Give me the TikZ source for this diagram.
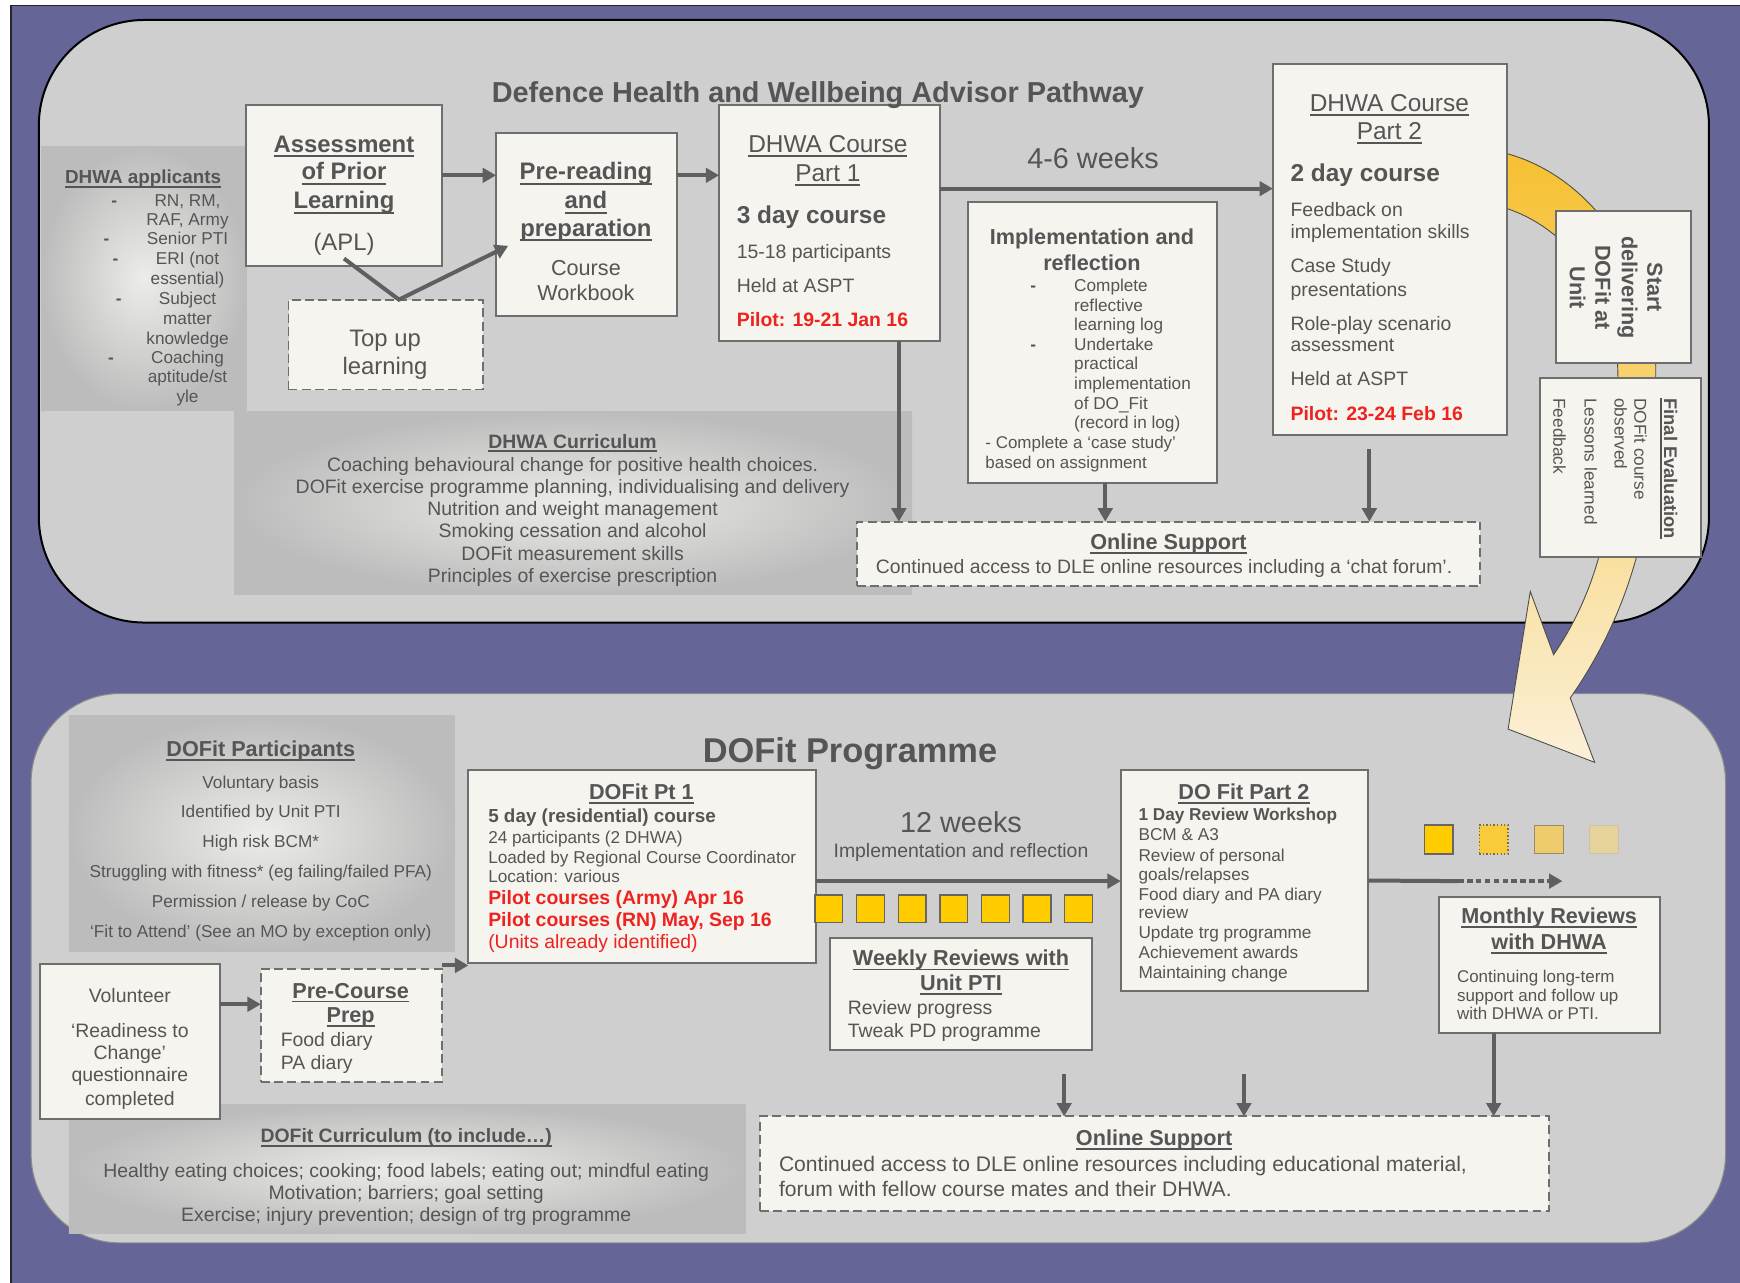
\documentclass[tikz,border=0pt]{standalone}
\usepackage{fontspec}
\setmainfont{Liberation Sans}
\usetikzlibrary{arrows.meta}
\definecolor{purp}{RGB}{101,101,152}
\definecolor{panel}{RGB}{207,207,207}
\definecolor{boxfill}{RGB}{246,244,239}
\definecolor{boxline}{RGB}{110,110,110}
\definecolor{tgray}{RGB}{85,85,85}
\definecolor{arrowc}{RGB}{95,95,95}
\definecolor{pilot}{RGB}{238,34,30}
\definecolor{shin}{RGB}{236,236,233}
\definecolor{shout}{RGB}{188,188,188}
\definecolor{yel}{RGB}{255,204,0}
\definecolor{bandtop}{RGB}{246,192,48}
\definecolor{bandbot}{RGB}{251,240,216}
\newcommand\fsz[1]{\fontsize{#1}{#1}\selectfont}
\newcommand\undl[1]{\setbox0\hbox{#1}\rlap{\rule[-0.2em]{\wd0}{0.08em}}\box0}
\begin{document}
\begin{tikzpicture}[x=1pt,y=-1pt,
  box/.style={draw=boxline, fill=boxfill, line width=1.7pt, inner sep=0pt, outer sep=0pt},
  dbox/.style={box, dash pattern=on 8pt off 4pt},
  aline/.style={draw=arrowc, line width=3.6pt},
  arr/.style={aline, -{Triangle[length=12pt,width=13pt]}},
  tx/.style={text=tgray, inner sep=0pt, outer sep=0pt},
  cn/.style={tx, font=\fsz{#1}, anchor=base, yshift={-0.33pt*#1}},
  cb/.style={tx, font=\bfseries\fsz{#1}, anchor=base, yshift={-0.33pt*#1}},
  ln/.style={tx, font=\fsz{#1}, anchor=base west, yshift={-0.33pt*#1}},
  lb/.style={tx, font=\bfseries\fsz{#1}, anchor=base west, yshift={-0.33pt*#1}},
  sq/.style={line width=1.2pt, minimum size=25pt, inner sep=0pt},
  shp/.style={inner color=shin, outer color=shout}]
\useasboundingbox (0,0) rectangle (1568,1156);
\fill[white] (0,0) rectangle (1568,1156);
\fill[purp] (10,5) rectangle (1568,1156);
\draw[black!85, line width=1.3pt] (10,1156) -- (10,5) -- (1568,5);

% panels
\draw[fill=panel, draw=black, line width=1.8pt, rounded corners=95pt] (35,18) rectangle (1540,561);
\draw[fill=panel, draw=black!45, line width=1pt, rounded corners=80pt] (28,625) rectangle (1555,1120);

% shaded areas
\shade[shp] (37,132) rectangle (222,370);
\shade[shp] (211,371) rectangle (822,536);
\shade[shp] (62,645) rectangle (410,857);
\shade[shp] (62,995) rectangle (672,1112);

% big curved band arrow
\shadedraw[top color=bandtop, bottom color=bandbot, draw=black!70, line width=0.8pt]
 (1318,133) .. controls (1420,133) and (1495,235) .. (1492,340)
 .. controls (1495,460) and (1470,550) .. (1415,629)
 -- (1437,687) -- (1359,657) -- (1379,533) -- (1400,590)
 .. controls (1448,520) and (1458,440) .. (1458,340)
 .. controls (1458,255) and (1400,183) .. (1318,181) -- cycle;

% ---------------- TOP PANEL ----------------
% applicants
\node[cb=17] (appt) at (129,160) {\undl{DHWA applicants}};
\foreach \yy/\s [count=\i] in {181/{RN, RM,},198/{RAF, Army},215/{Senior PTI},233/{ERI (not},251/{essential)},269/{Subject},287/{matter},305/{knowledge},322/{Coaching},340/{aptitude/st},358/{yle}}
  \node[cn=15.5] (appl\i) at (169,\yy) {\s};
\foreach \xx/\yy [count=\i] in {103/181, 96/215, 104/233, 107/269, 100/322}
  \node[cb=15.5] (appd\i) at (\xx,\yy) {-};

% boxes
\node[box, minimum width=176pt, minimum height=145pt] (apl) at (310,167.5) {};
\node[box, minimum width=163pt, minimum height=165pt] (prer) at (528.5,202.5) {};
\node[box, minimum width=199pt, minimum height=212pt] (p1) at (747.5,201) {};
\node[dbox, minimum width=175pt, minimum height=81pt] (topup) at (347.5,310.5) {};
\node[box, minimum width=225pt, minimum height=253pt] (impl) at (984.5,308.5) {};
\node[box, minimum width=211pt, minimum height=334pt] (p2) at (1252.5,225) {};
\node[dbox, minimum width=562pt, minimum height=58pt] (ons) at (1053,499) {};
\node[box, minimum width=122pt, minimum height=137pt] (start) at (1463,258.5) {};
\node[box, minimum width=145pt, minimum height=161pt] (fin) at (1460.5,421.5) {};

\node[cb=26] (title1) at (737,84) {Defence Health and Wellbeing Advisor Pathway};

% APL
\foreach \yy/\s [count=\i] in {130/Assessment,155/{of Prior},181/Learning}
  \node[cb=21.5] (aplt\i) at (310,\yy) {\undl{\s}};
\node[cn=21.5] (aplt4) at (310,219) {(APL)};
% Pre-reading
\foreach \yy/\s [count=\i] in {155/Pre-reading,181/and,206/preparation}
  \node[cb=21.5] (prert\i) at (528,\yy) {\undl{\s}};
\node[cn=19.5] (prert4) at (528,242) {Course};
\node[cn=19.5] (prert5) at (528,264) {Workbook};
% Part 1
\node[cn=22] (p1a) at (746,130) {\undl{DHWA Course}};
\node[cn=22] (p1b) at (746,156) {\undl{Part 1}};
\node[lb=22] (p1c) at (664,194) {3 day course};
\node[ln=17.5] (p1d) at (664,227) {15-18 participants};
\node[ln=17.5] (p1e) at (664,258) {Held at ASPT};
\node[lb=17.5, text=pilot] (p1f) at (664,288) {Pilot: 19-21 Jan 16};
% Top up
\node[cn=21.5] (tu1) at (347,305) {Top up};
\node[cn=21.5] (tu2) at (347,330) {learning};
% Implementation
\node[cb=19.5] (im1) at (984,214) {Implementation and};
\node[cb=19.5] (im2) at (984,237) {reflection};
\foreach \yy/\s [count=\i] in {258/Complete,276/reflective,293/{learning log},311/Undertake,328/practical,346/implementation,364/{of DO\_Fit},381/{(record in log)}}
  \node[ln=15.5] (iml\i) at (968,\yy) {\s};
\node[cb=15.5] (imd1) at (931,258) {-};
\node[cb=15.5] (imd2) at (931,311) {-};
\node[ln=15.3] (im3) at (888,399) {- Complete a ‘case study’};
\node[ln=15.3] (im4) at (888,417) {based on assignment};
% Part 2
\node[cn=22] (p2a) at (1252,93) {\undl{DHWA Course}};
\node[cn=22] (p2b) at (1252,118) {\undl{Part 2}};
\node[lb=22] (p2c) at (1163,156) {2 day course};
\foreach \yy/\s [count=\i] in {189/{Feedback on},209/{implementation skills},240/{Case Study},261/presentations,292/{Role-play scenario},311/assessment,342/{Held at ASPT}}
  \node[ln=17.5] (p2l\i) at (1163,\yy) {\s};
\node[lb=17.5, text=pilot] (p2k) at (1163,373) {Pilot: 23-24 Feb 16};
% online support (top)
\node[cb=19.5] (onst) at (1053,489) {\undl{Online Support}};
\node[cn=17.5] (onsx) at (1049,511) {Continued access to DLE online resources including a ‘chat forum’.};
% DHWA curriculum
\node[cb=17.5] (dc0) at (516,398) {\undl{DHWA Curriculum}};
\foreach \yy/\s [count=\i] in {419/{Coaching behavioural change for positive health choices.},439/{DOFit exercise programme planning, individualising and delivery},459/{Nutrition and weight management},479/{Smoking cessation and alcohol},499/{DOFit measurement skills},519/{Principles of exercise prescription}}
  \node[cn=17.5] (dc\i) at (516,\yy) {\s};
% start delivering (rotated; baseline offset applied in x)
\foreach \xx/\s [count=\i] in {1484.6/Start,1461.6/delivering,1437.6/{DOFit at},1414.6/Unit}
  \node[tx, rotate=-90, anchor=base, font=\bfseries\fsz{19.5}] (st\i) at (\xx,259) {\s};
% final evaluation
\node[tx, rotate=-90, anchor=base west, font=\bfseries\fsz{16.5}] (fe1) at (1499.6,359) {\undl{Final Evaluation}};
\foreach \xx/\s [count=\i] in {1472.9/{DOFit course},1454.9/observed,1427.9/{Lessons learned},1399.9/Feedback}
  \node[tx, rotate=-90, anchor=base west, font=\fsz{15.5}] (fel\i) at (\xx,359) {\s};

% top arrows
\draw[arr] ([yshift=9.5pt]apl.east) -- ([yshift=9.5pt]apl.east -| prer.west);
\draw[arr] ([yshift=44.5pt]prer.east) -- ([yshift=44.5pt]prer.east -| p1.west);
\draw[arr] ([yshift=31pt]p1.east) -- ([yshift=31pt]p1.east -| p2.west);
\node[cn=26] (wk46) at (985,143) {4-6 weeks};
\draw[arr] ([yshift=7pt]apl.south) -- ([xshift=12pt]topup.north) -- ([xshift=11pt,yshift=-19pt]prer.west);
\draw[arr] ([xshift=62.5pt]p1.south) -- ([xshift=62.5pt]p1.south |- ons.north);
\draw[arr] ([xshift=11.5pt]impl.south) -- ([xshift=11.5pt]impl.south |- ons.north);
\draw[arr] ([xshift=-18.5pt,yshift=-13pt]p2.south) -- ([xshift=-18.5pt]p2.south |- ons.north);

% ---------------- BOTTOM PANEL ----------------
\node[cb=31] (title2) at (766,677) {DOFit Programme};

% participants
\node[cb=19.5] (pp0) at (235,675) {\undl{DOFit Participants}};
\foreach \yy/\s [count=\i] in {705/{Voluntary basis},732/{Identified by Unit PTI},759/{High risk BCM*},786/{Struggling with fitness* (eg failing/failed PFA)},813/{Permission / release by CoC},840/{‘Fit to Attend’ (See an MO by exception only)}}
  \node[cn=15.5] (pp\i) at (235,\yy) {\s};

% boxes
\node[box, minimum width=162pt, minimum height=139pt] (vol) at (117,938.5) {};
\node[dbox, minimum width=163pt, minimum height=102pt] (pre) at (316.5,924) {};
\node[box, minimum width=313pt, minimum height=174pt] (pt1) at (578.5,781) {};
\node[box, minimum width=236pt, minimum height=101pt] (wk) at (866,895.5) {};
\node[box, minimum width=223pt, minimum height=199pt] (dof2) at (1121.5,793.5) {};
\node[box, minimum width=199pt, minimum height=123pt] (mon) at (1396.5,869.5) {};
\node[dbox, minimum width=711pt, minimum height=85pt] (onb) at (1040.5,1048.5) {};

% volunteer
\foreach \yy/\s [count=\i] in {898/Volunteer,929/{‘Readiness to},949/{Change’},969/questionnaire,990/completed}
  \node[cn=17.5] (vo\i) at (117,\yy) {\s};
% pre-course
\node[cb=19.5] (pc1) at (316,893) {\undl{Pre-Course}};
\node[cb=19.5] (pc2) at (316,915) {\undl{Prep}};
\node[ln=17.5] (pc3) at (253,937) {Food diary};
\node[ln=17.5] (pc4) at (253,958) {PA diary};
% DOFit pt1
\node[cb=19.5] (d1a) at (578,714) {\undl{DOFit Pt 1}};
\node[lb=17] (d1b) at (440,736) {5 day (residential) course};
\foreach \yy/\s [count=\i] in {755/{24 participants (2 DHWA)},773/{Loaded by Regional Course Coordinator},790/{Location: various}}
  \node[ln=15.5] (d1l\i) at (440,\yy) {\s};
\node[lb=17.5, text=pilot] (d1r1) at (440,809) {Pilot courses (Army) Apr 16};
\node[lb=17.5, text=pilot] (d1r2) at (440,829) {Pilot courses (RN) May, Sep 16};
\node[ln=17.5, text=pilot] (d1r3) at (440,849) {(Units already identified)};
% 12 weeks
\node[cn=26] (w12) at (866,742) {12 weeks};
\node[cn=17.5] (w12b) at (866,767) {Implementation and reflection};
% weekly
\node[cb=19.5] (wk1) at (866,864) {\undl{Weekly Reviews with}};
\node[cb=19.5] (wk2) at (866,886) {\undl{Unit PTI}};
\node[ln=17.5] (wk3) at (764,908) {Review progress};
\node[ln=17.5] (wk4) at (764,929) {Tweak PD programme};
% DO Fit part 2
\node[cb=19.5] (d2a) at (1121,714) {\undl{DO Fit Part 2}};
\node[lb=15.5] (d2b) at (1026,734) {1 Day Review Workshop};
\foreach \yy/\s [count=\i] in {752/{BCM \& A3},771/{Review of personal},788/{goals/relapses},806/{Food diary and PA diary},823/review,841/{Update trg programme},859/{Achievement awards},877/{Maintaining change}}
  \node[ln=15.5] (d2l\i) at (1026,\yy) {\s};
% monthly
\node[cb=19.5] (mo1) at (1396,826) {\undl{Monthly Reviews}};
\node[cb=19.5] (mo2) at (1396,849) {\undl{with DHWA}};
\foreach \yy/\s [count=\i] in {880/{Continuing long-term},897/{support and follow up},914/{with DHWA or PTI.}}
  \node[ln=15.3] (mol\i) at (1313,\yy) {\s};
% online support bottom
\node[cb=19.5] (onb0) at (1040,1026) {\undl{Online Support}};
\node[ln=19] (onb1) at (702,1049) {Continued access to DLE online resources including educational material,};
\node[ln=19] (onb2) at (702,1072) {forum with fellow course mates and their DHWA.};
% DOFit curriculum
\node[cb=17.5] (cu0) at (366,1024) {\undl{DOFit Curriculum (to include…)}};
\foreach \yy/\s [count=\i] in {1055/{Healthy eating choices; cooking; food labels; eating out; mindful eating},1075/{Motivation; barriers; goal setting},1095/{Exercise; injury prevention; design of trg programme}}
  \node[cn=17.5] (cu\i) at (366,\yy) {\s};

% squares
\foreach \i in {0,...,6}
  \node[sq, fill=yel, draw=black!60] (ys\i) at (747+37.5*\i,819) {};
\node[sq, minimum size=26pt, fill=yel, draw=black!60] (fs1) at (1296.5,756.5) {};
\node[sq, minimum size=26pt, fill={rgb,255:red,249;green,203;blue,58}, draw={rgb,255:red,120;green,110;blue,70}, dotted] (fs2) at (1346,756.5) {};
\node[sq, minimum size=26pt, fill={rgb,255:red,238;green,203;blue,108}, draw={rgb,255:red,150;green,140;blue,105}, line width=0.9pt] (fs3) at (1395.5,756.5) {};
\node[sq, minimum size=26pt, fill={rgb,255:red,229;green,211;blue,155}, draw={rgb,255:red,200;green,194;blue,170}, line width=0.8pt] (fs4) at (1445,756.5) {};

% bottom arrows
\draw[arr] ([yshift=33.5pt]vol.east) -- ([yshift=33.5pt]vol.east -| pre.west);
\draw[arr] ([yshift=3pt]pre.north east) -- ([yshift=3pt]pre.north east -| pt1.west);
\draw[arr] ([yshift=-13pt]pt1.east) -- ([yshift=-13pt]pt1.east -| dof2.west);
\coordinate (dd1) at (1314,794);
\coordinate (dd2) at (1408,794);
\draw[aline] (dof2.east) -- (dd1);
\draw[arr, dash pattern=on 5pt off 3pt] (dd1) -- (dd2);
\coordinate (da1) at (959,968);
\coordinate (da2) at (1121,968);
\draw[arr] (da1) -- (da1 |- onb.north);
\draw[arr] (da2) -- (da2 |- onb.north);
\draw[arr] ([xshift=-50.5pt]mon.south) -- ([xshift=-50.5pt]mon.south |- onb.north);
\end{tikzpicture}
\end{document}
